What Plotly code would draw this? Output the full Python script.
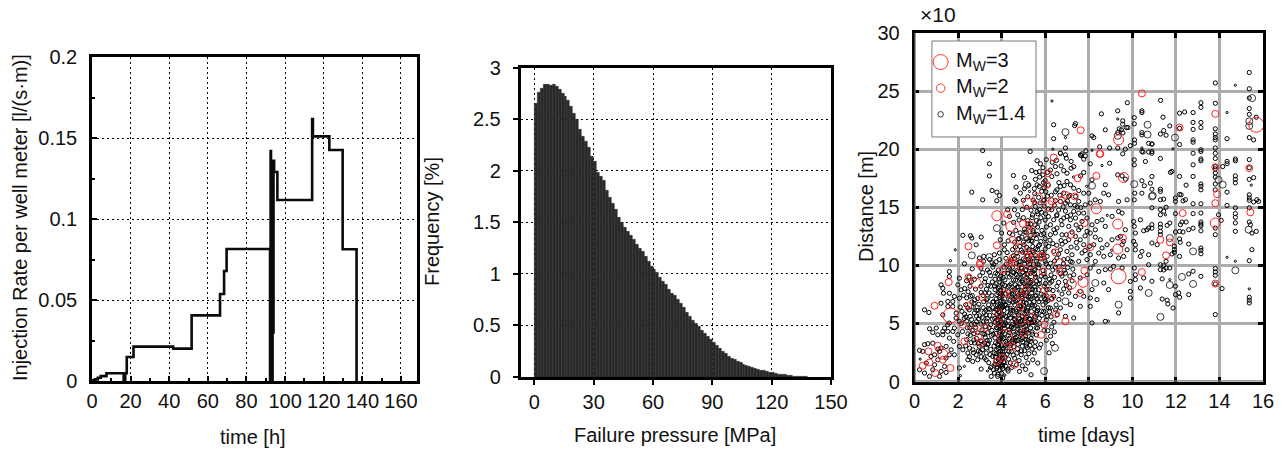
import plotly.graph_objects as go

# The page keeps the browser's 8 px body margin, so the figure is 1280x444 inside a 1288x452 window.
PAGE_W, PAGE_H = 1288, 452
MARGIN = 8
W, H = PAGE_W - MARGIN, PAGE_H - MARGIN
FONT = "Liberation Sans"
TXT = "#111111"
FS = 20

# ---------- panel 1: injection rate steps ----------
time_h = [0, 1.5, 3, 4.5, 7.5, 16.4, 17.2, 18, 21.5, 42, 51.6, 66.3, 68.4, 69.7, 92.2, 92.5, 92.7, 93.0, 93.2,
          93.5, 93.8, 94.0, 94.3, 95.6, 96.0, 114, 114.4, 122.9, 129.8, 137, 137.6]
rate = [0.0005, 0.001, 0.002, 0.003, 0.0048, 0.0, 0.0048, 0.0148, 0.0212, 0.0200, 0.0405, 0.0537, 0.0679, 0.0815,
        0.0, 0.142, 0.0, 0.125, 0.0, 0.136, 0.03, 0.136, 0.129, 0.129, 0.1117, 0.1617, 0.151, 0.1426, 0.0813,
        0.0, 0.0]

# ---------- panel 2: failure pressure histogram ----------
bin_width = 1.5
pressure_bins = [0.75, 2.25, 3.75, 5.25, 6.75, 8.25, 9.75, 11.25, 12.75, 14.25, 15.75, 17.25, 18.75, 20.25,
                 21.75, 23.25, 24.75, 26.25, 27.75, 29.25, 30.75, 32.25, 33.75, 35.25, 36.75, 38.25, 39.75, 41.25,
                 42.75, 44.25, 45.75, 47.25, 48.75, 50.25, 51.75, 53.25, 54.75, 56.25, 57.75, 59.25, 60.75, 62.25,
                 63.75, 65.25, 66.75, 68.25, 69.75, 71.25, 72.75, 74.25, 75.75, 77.25, 78.75, 80.25, 81.75, 83.25,
                 84.75, 86.25, 87.75, 89.25, 90.75, 92.25, 93.75, 95.25, 96.75, 98.25, 99.75, 101.25, 102.75, 104.25,
                 105.75, 107.25, 108.75, 110.25, 111.75, 113.25, 114.75, 116.25, 117.75, 119.25, 120.75, 122.25,
                 123.75, 125.25, 126.75, 128.25, 129.75, 131.25, 132.75, 134.25, 135.75, 137.25]
frequency = [2.65, 2.76, 2.80, 2.84, 2.84, 2.83, 2.84, 2.82, 2.79, 2.75, 2.72, 2.68, 2.62, 2.55,
             2.50, 2.40, 2.33, 2.28, 2.22, 2.14, 2.09, 1.98, 1.94, 1.90, 1.81, 1.74, 1.68, 1.62,
             1.55, 1.50, 1.45, 1.41, 1.37, 1.33, 1.28, 1.25, 1.22, 1.17, 1.12, 1.07, 1.04, 1.01,
             0.96, 0.93, 0.90, 0.85, 0.81, 0.79, 0.75, 0.71, 0.67, 0.63, 0.59, 0.55, 0.52, 0.49,
             0.45, 0.42, 0.39, 0.36, 0.33, 0.31, 0.28, 0.25, 0.23, 0.20, 0.18, 0.165, 0.15, 0.14,
             0.125, 0.11, 0.10, 0.095, 0.085, 0.075, 0.065, 0.06, 0.052, 0.048, 0.04, 0.034,
             0.028, 0.024, 0.02, 0.015, 0.011, 0.008, 0.005, 0.004, 0.002, 0.001]

# ---------- panel 3: events (time in days, distance x10 m) ----------
events_right = [
 (15.37,26.6),(13.81,25.7),(15.37,25.2),(11.3,24.2),(15.37,24.4),(13.15,24.0),(13.15,23.6),(13.81,23.95),(12.17,23.1),
 (12.4,23.2),(12.79,23.15),(15.37,23.5),(15.37,23.0),(15.69,22.75),(11.41,22.75),(12.79,22.3),(12.79,21.7),(13.15,22.3),
 (13.15,21.86),(11.72,22),(12.17,21.8),(11.29,21.3),(11.55,21.2),(11.44,21.6),(13.81,21.75),(13.81,21.3),(13.81,21),
 (13.81,20.8),(14.35,20.9),(15.37,21),(15.57,20.8),(12.79,20.8),(12.79,20.6),(12.17,20.4),(10.9,20.45),(13.15,19.95),
 (13.15,19.8),(13.81,20.1),(13.81,19.65),(10.9,19.65),(12.79,19.65),(11.29,19.2),(13.15,19.15),(13.15,19),(13.81,19.2),
 (14.73,19.15),(14.73,19),(14.35,18.95),(14.35,18.75),(15.37,19.1),(12.79,18.65),(13.81,18.5),(13.81,18.3),(14.15,18.5),
 (15.37,18.4),(11.75,18),(11.82,18.08),(13.81,17.95),(13.81,17.6),(10.9,17.65),(12.17,17.65),(12.79,17.65),(14.73,17.7),
 (14.73,17.4),(14.73,17.1),(15.37,17.4),(15.57,17.55),(13.81,17),(12.47,16.9),(13.15,17),(13.15,16.8),(13.15,16.5),
 (10.9,16.55),(11.29,16.55),(11.29,16.36),(13.81,16.5),(14.35,16.3),(12.17,16.1),(12.24,16.07),(15.37,16.07),(15.37,15.8),
 (15.37,15.6),(15.72,15.65),(15.57,15.45),(15.8,15.5),(11.98,15.8),(11.98,15.5),(12.44,15.65),(12.33,15.55),(11.29,15.65),
 (11.44,15.7),(12.79,15.3),(13.15,15.3),(14.35,15.15),(10.9,14.95),(11.55,15),(11.29,14.8),(11.44,14.65),(11.29,14.35),
 (11.98,14.45),(12.79,14.45),(13.15,14.5),(13.96,14.35),(14.73,14.95),(14.73,14.45),(14.73,14.13),(15.37,14.95),
 (14.08,13.87),(12.21,13.5),(12.28,13.73),(12.47,13.73),(13.15,13.73),(13.15,13.55),(13.15,13.4),(14.73,13.65),
 (15.37,13.73),(15.42,13.5),(11.72,13.64),(11.6,13.44),(11.29,13.55),(11.29,13.27),(10.9,13.5),(10.9,13.2),(12.79,13.2),
 (12.59,13.07),(13.15,12.97),(13.81,13.2),(14.73,12.93),(15.49,12.78),(15.69,12.92),(11.98,12.87),(12.17,12.92),
 (12.33,12.87),(11.29,12.92),(11.29,12.64),(13.81,12.64),(12.17,12.27),(12.2,11.98),(10.9,11.92),(11.14,11.78),
 (11.93,11.64),(11.93,11.35),(11.93,11.12),(12.59,11.83),(13.15,11.49),(13.15,11.29),(13.15,11),(15.49,11.35),(15.37,10.4),
 (11.82,10.98),(12.17,10.77),(11.55,10.35),(11.29,10.06),(11.44,9.97),(11.55,9.77),(11.72,9.77),(11.29,9.63),(11.44,9.6),
 (13.81,9.72),(13.81,9.43),(13.81,9.14),(12.79,9.49),(12.59,9.26),(13.15,9.05),(10.9,8.63),(11.37,8.83),(11.98,8.2),
 (13.81,8.4),(14.12,8),(12.13,7.62),(11.98,7.48),(12.59,7.48),(11.37,7.1),(11.6,7),(11.63,6.68),(12.17,7.25),(15.37,7.25),
 (15.37,7),(15.37,6.76),(11.87,6.33),(13.81,5.76),
 (6.39,22.1),(6.39,20.9),(7.39,22.2),(7.35,22.03),(8.15,21.15),(8.23,21),(8.76,21.66),(8.58,23.04),(9.33,23.3),(9.56,22.44),
 (9.56,22.15),(9.4,21.75),(9.33,21.43),(9.57,21.4),(9.5,21.66),(9.73,21.86),(9.8,21.86),(9.77,24),(10.09,22.72),(10.09,22.18),
 (10.44,23.3),(10.44,23.15),(10.44,21.43),(10.44,21.23),(10.1,20.8),(10.1,20.5),(10.75,20.5),(10.9,20.43),(9.91,20.3),
 (9.68,20),(9.33,20.1),(8.96,20.1),(8.5,20.2),(7.87,19.86),(6.93,20.1),(10.49,19.75),(10.75,19.75),(9.56,19.6),(6.7,19.66),
 (7.69,19.6),(7.62,19.5),
 (6.70,19.65),(6.93,19.51),(6.97,19.22),(7.65,19.45),(7.84,19.42),(7.77,19.14),(8.96,18.79),(8.07,18.74),(7.19,18.94),
 (7.31,18.5),(7.19,18.36),(6.73,18.56),(6.85,18.16),(7.0,17.93),(6.47,18.5),(6.24,18.2),(6.54,17.88),(6.3,17.65),(7.77,17.99),
 (7.62,17.7),(8.15,17.36),(9.33,17.79),(9.53,17.7),(9.68,17.42),(8.76,16.93),(10.44,17.28),(10.55,16.85),(10.83,17.07),
 (10.44,16.21),(10.11,16.21),(10.09,15.64),(10.6,18.94),(10.09,19.08),(10.09,18.65),(10.44,19.8),(10.9,19.8),(7.31,16.64),
 (7.54,16.44),(7.77,16.21),(8.0,16.21),(7.0,17.22),(7.16,16.93),(6.7,16.79),(6.54,16.5),(6.85,16.21),(7.08,15.93),(7.39,15.93),
 (6.7,15.5),(6.93,15.36),(7.16,15.21),(7.54,15.5),(7.84,15.21),(8.07,15.36),(8.3,15.64),(8.69,16.21),(8.53,15.5),(8.91,16.07),
 (9.37,15.5),(9.76,15.64),(7.31,14.64),(7.54,14.5),(7.77,14.5),(7.0,14.21),(7.16,13.92),(6.85,14.07),(6.54,14.35),(6.39,13.92),
 (6.3,14.78),(6.24,13.49),(6.54,13.21),(6.77,13.49),(7.08,13.35),(7.39,14.07),(7.69,13.78),(7.92,14.07),(8.15,13.49),(8.38,13.78),
 (8.61,13.92),(8.76,13.35),(8.3,13.06),(7.92,12.92),(7.54,13.06),(9.07,14.21),(9.37,14.64),(9.53,14.5),(9.68,13.06),(9.45,12.49),
 (10.06,13.78),(10.09,13.35),(10.14,12.78),(10.52,12.98),(10.67,13.06),(10.75,13.21),(10.37,13.92),(6.24,12.63),(6.47,12.78),
 (6.77,12.63),(7.08,12.2),(7.39,12.49),(7.61,12.2),(7.77,11.77),(8.07,12.78),(8.3,12.43),(8.53,12.2),(8.61,11.49),(8.84,11.77),
 (9.07,12.2),(9.33,12.35),(9.6,12.06),(9.53,11.77),(10.06,12.06),(10.14,11.77),(10.14,11.34),(10.37,10.77),(10.75,10.91),
 (10.75,10.05),(10.44,11.2),(9.76,11.34),(9.6,10.77),(9.37,10.63),(8.99,10.91),(8.69,10.77),(8.46,11.06),(8.07,10.91),(7.69,11.06),
 (7.46,11.49),(7.23,10.91),(7.0,11.2),(6.7,11.34),(6.39,11.2),(6.16,11.63),(6.09,10.77),(6.54,10.63),(6.85,10.49),(7.16,10.34),
 (7.54,10.34),(7.92,10.49),(8.3,10.34),(8.07,9.77),(8.46,9.48),(8.76,9.63),(8.99,9.68),(9.14,9.91),(9.53,9.77),(10.09,9.77),
 (10.14,9.19),(10.14,8.77),(10.52,8.91),(10.37,8.05),(9.91,8.62),(9.91,7.76),(9.91,7.19),(9.37,5.9),(8.91,7.91),(8.69,8.48),
 (8.15,7.91),(8.07,7.19),(7.77,7.33),(7.61,7.76),(7.39,7.33),(7.08,7.62),(6.7,6.33),(7.16,6.62),(7.61,6.47),(8.07,6.47),(8.38,7.05),
 (8.76,5.18),(8.15,5.04),(7.31,5.47),(6.93,5.61),(6.09,5.61),(6.24,6.33),(6.01,7.05),(6.39,7.33),(6.09,7.91),(6.54,8.19),(6.3,8.62),
 (6.93,8.62),(7.31,9.19),(7.61,8.91),(7.92,9.19),
]
events_left = [
 (3.13,19.88),(3.44,18.74),(3.44,17.7),(2.63,16.3),(3.56,16.44),(3.78,16.3),(3.9,16.0),(3.13,15.64),(3.78,15.56),(4.54,17.73),
 (5.05,17.56),(5.38,18.16),(5.58,18),(5.78,18.74),(5.31,19.8),(5.63,19),(5.89,17.79),(4.66,16.73),(4.86,16.22),(4.59,15.64),
 (4.66,15.5),(5.73,16.79),(2.22,12.58),(2.57,12.55),(2.63,12.35),(3.06,12.43),(2.83,11.77),(2.98,10.63),(3.18,10.77),(2.29,10.14),
 (3.17,10.34),(3.67,10.91),(4.1,13.64),(4.28,14.78),(4.59,14.78),(4.74,14.35),(4.36,14.21),(4.0,12.78),(3.94,12.2),(4.13,11.77),
 (4.13,11.34),(3.9,11.06),(3.9,10.49),(4.36,12.78),(4.51,12.63),
 (0.46,3.17),(0.23,2.68),(0.38,2.59),(0.69,4.54),(1.0,4.6),(0.84,4.22),(1.07,4.02),(1.3,4.02),(1.53,4.31),(1.8,3.45),(1.6,3.74),
 (1.38,4.6),(1.22,8.32),(1.6,9.47),(1.6,9.04),(1.33,7.6),(1.6,7.6),(1.3,8.03),(1.76,6.89),(1.53,6.89),(1.83,7.32),(0.46,6.17),
 (0.66,5.94),(2.06,7.17),(1.99,8.32),(2.06,8.89),(2.14,7.89),(1.53,6.46),(1.76,6.46),(1.22,6.74),(1.91,5.89),(1.91,5.46),(1.3,5.74),
 (2.06,5.17),(1.6,5.03),(1.3,4.31),(1.76,4.31),(1.83,4.6),(1.53,4.88),(1.99,4.02),(0.84,3.3),(0.61,3.25),(1.07,2.79),(0.92,2.3),
 (1.15,2.59),(0.76,2.16),(1.22,2.88),(1.45,3.02),(1.68,2.73),(1.83,2.3),(1.6,2.3),(1.45,2.02),(0.92,1.44),(1.07,1.87),(0.54,1.59),
 (0.23,1.01),(0.46,0.73),(0.69,0.44),(1.15,0.44),(1.22,0.87),(1.45,0.78),(0.84,1.01),(1.38,1.3),(2.06,1.16),(3.06,1.07),(2.45,1.87),
 (2.83,2.3),(2.9,1.87),(3.29,2.45),(3.21,2.02),(2.68,2.73),(2.45,2.45),(2.06,3.02),(2.22,2.73),(2.75,3.31),(3.36,3.17),(3.29,1.87),
 (3.59,2.16),(3.67,0.73),(3.52,0.44),(3.82,0.44),(4.05,0.3),(5.35,0.58),(4.82,0.87),(5.2,1.59),(5.43,1.87),(5.66,1.59),(5.73,2.88),
 (5.5,2.45),
 (3.5,1.2),(3.7,1.5),(3.9,1.0),(4.0,0.7),(4.2,1.3),(4.3,0.9),(4.1,1.7),(3.85,1.9),(4.4,1.6),(3.95,1.4),(4.05,1.1),(5.1,1.05),(4.6,2.0),
 (4.8,1.8),(4.95,1.35),(3.8,1.25),(3.92,1.65),(4.15,2.1),(3.75,2.4),(3.9,2.3),(4.05,2.55),(4.25,2.35),(4.45,2.6),(4.7,2.45),(4.9,2.3),
 (5.05,2.65),(5.25,2.4),(5.4,2.8),(3.3,2.9),(3.5,2.75),(3.65,3.05),(3.85,2.85),(4.0,3.1),(4.2,2.9),(4.35,3.25),(4.55,3.0),(4.75,3.2),
 (4.95,3.05),(5.15,3.3),(5.3,3.1),(5.55,3.4),(5.8,3.2),(6.05,3.55),(2.4,3.6),(2.6,3.35),(2.85,3.7),(3.05,3.5),(3.25,3.8),(3.45,3.55),
 (3.7,3.75),(3.9,3.45),(4.1,3.7),(4.3,3.95),(4.5,3.6),(4.7,3.85),(4.9,3.6),(5.1,3.9),(5.35,3.7),(5.6,4.0),(6.25,3.9),(2.2,4.3),(2.45,4.1),
 (2.65,4.4),(2.9,4.2),(3.1,4.45),(3.35,4.2),(3.55,4.4),(3.75,4.15),(3.95,4.35),(4.15,4.1),(4.35,4.45),(4.55,4.25),(4.75,4.5),(4.95,4.2),
 (5.15,4.45),(5.4,4.25),(5.65,4.6),(5.95,4.4),(6.3,4.7),(2.15,5.0),(2.4,5.2),(2.6,4.9),(2.85,5.15),(3.05,4.95),(3.3,5.2),(3.5,4.9),(3.7,5.1),
 (3.85,4.75),(3.95,5.25),(4.1,4.95),(4.3,5.2),(4.5,4.9),(4.7,5.15),(4.85,4.85),(5.05,5.2),(5.25,4.95),(5.5,5.25),(5.75,5.0),(6.05,5.3),(6.4,5.1),
 (2.3,5.8),(2.55,5.6),(2.75,5.9),(3.0,5.65),(3.2,5.95),(3.45,5.7),(3.65,5.95),(3.85,5.55),(4.0,5.8),(4.2,5.6),(4.4,5.9),(4.6,5.65),(4.8,5.95),
 (4.95,5.6),(5.15,5.9),(5.35,5.65),(5.6,5.95),(5.85,5.7),(6.2,6.0),(6.55,5.75),(2.1,6.4),(2.35,6.6),(2.7,6.4),(2.95,6.65),(3.15,6.35),(3.4,6.6),
 (3.6,6.35),(3.8,6.6),(4.0,6.3),(4.2,6.55),(4.4,6.3),(4.6,6.6),(4.8,6.25),(5.0,6.55),(5.2,6.3),(5.4,6.6),(5.65,6.35),(5.9,6.6),(6.15,6.35),(6.5,6.6),
 (2.4,7.2),(2.65,7.4),(2.9,7.15),(3.15,7.4),(3.35,7.15),(3.55,7.4),(3.75,7.1),(3.95,7.35),(4.15,7.1),(4.35,7.35),(4.55,7.1),(4.75,7.4),(4.95,7.15),
 (5.15,7.4),(5.35,7.1),(5.55,7.35),(5.8,7.1),(6.05,7.4),(6.3,7.15),(2.3,8.0),(2.55,8.2),(2.8,7.95),(3.05,8.2),(3.3,7.95),(3.5,8.2),(3.7,7.9),(3.9,8.15),
 (4.1,7.9),(4.3,8.15),(4.5,7.85),(4.7,8.1),(4.9,7.85),(5.1,8.15),(5.3,7.9),(5.5,8.15),(5.7,7.9),(5.95,8.2),(6.2,7.95),(2.5,9.0),(2.75,8.8),(3.0,9.1),
 (3.25,8.85),(3.5,9.1),(3.7,8.8),(3.95,9.05),(4.15,8.75),(4.35,9.0),(4.55,8.75),(4.75,9.0),(4.95,8.7),(5.15,8.95),(5.35,8.7),(5.55,9.0),(5.75,8.75),
 (6.0,9.0),(6.2,8.8),(2.65,9.7),(3.05,9.75),(3.35,9.6),(3.6,9.85),(3.85,9.6),(4.1,9.85),(4.3,9.6),(4.5,9.85),(4.7,9.55),(4.9,9.8),(5.1,9.55),(5.3,9.8),
 (5.5,9.55),(5.7,9.8),(5.9,9.55),(6.15,9.85),(6.35,9.6),(3.45,10.5),(3.75,10.3),(4.2,10.6),(4.4,10.35),(4.6,10.6),(4.8,10.3),(5.0,10.55),(5.2,10.3),
 (5.4,10.6),(5.6,10.35),(5.8,10.55),(6.0,10.35),(4.25,11.1),(4.5,11.35),(4.7,11.05),(4.9,11.3),(5.1,11.05),(5.25,11.35),(5.45,11.1),(5.65,11.35),(5.85,11.1),
 (6.0,11.4),(4.3,12.1),(4.6,12.0),(4.8,12.3),(5.0,12.0),(5.15,12.3),(5.4,12.05),(5.6,12.3),(5.8,12.05),(6.0,12.3),(4.65,13.0),(4.85,12.8),(5.05,13.1),
 (5.25,13.3),(5.45,13.0),(5.65,13.3),(5.85,13.0),(6.05,13.3),(4.55,13.7),(4.8,13.9),(5.0,14.1),(5.2,13.85),(5.4,14.1),(5.6,13.85),(5.8,14.1),(6.0,13.9),
 (6.15,14.2),(4.95,14.8),(5.15,15.0),(5.35,14.75),(5.55,15.05),(5.75,14.8),(5.95,15.1),(6.15,14.85),(5.0,15.6),(5.2,15.9),(5.45,15.6),(5.7,15.85),(5.95,15.6),
 (6.1,15.95),(5.05,16.6),(5.25,16.9),(5.5,16.6),(5.95,16.7),(6.15,16.9),(5.55,17.4),(5.75,17.6),(6.0,17.3),(6.1,18.0),(5.9,18.4),(6.05,19.1),
]
events_core = [
 (3.62,1.02),(3.71,2.13),(3.83,0.62),(3.88,3.57),(3.79,4.62),(3.93,5.61),(3.81,6.18),(3.97,6.92),(3.86,7.63),(3.74,8.41),(3.92,8.57),
 (4.03,2.02),(4.09,2.87),(4.02,3.83),(4.13,4.56),(4.06,5.37),(4.11,6.11),(4.08,6.87),(4.17,7.54),(4.04,8.38),(4.12,9.31),(4.21,10.11),
 (4.27,1.07),(4.32,1.93),(4.24,3.31),(4.37,3.73),(4.29,4.77),(4.41,5.48),(4.26,6.31),(4.38,6.96),(4.31,7.72),(4.43,8.41),(4.28,9.32),
 (4.47,1.21),(4.53,2.27),(4.49,3.44),(4.58,4.03),(4.46,4.71),(4.61,5.31),(4.52,6.12),(4.64,6.92),(4.48,7.53),(4.62,8.33),(4.51,9.41),
 (4.68,1.44),(4.73,2.82),(4.66,3.51),(4.79,4.17),(4.71,4.93),(4.83,5.41),(4.69,6.02),(4.86,6.83),(4.72,7.61),(4.84,8.42),(4.67,9.21),(4.81,10.02),
 (4.91,2.63),(4.97,3.42),(4.89,4.07),(5.03,4.66),(4.93,5.27),(5.06,5.81),(4.88,6.42),(5.08,7.06),(4.92,7.52),(5.04,8.43),(4.98,9.37),(5.06,10.12),
 (5.13,2.07),(5.18,2.91),(5.12,3.63),(5.22,4.17),(5.11,4.76),(5.27,5.42),(5.16,6.07),(5.29,6.83),(5.14,7.62),(5.26,8.47),(5.19,9.22),(5.28,10.08),(5.17,10.84),
 (5.34,3.47),(5.41,4.07),(5.33,4.61),(5.46,5.11),(5.37,6.02),(5.48,6.87),(5.38,7.63),(5.44,8.41),(5.32,9.31),(5.47,10.07),(5.36,10.87),(5.43,11.62),(5.33,12.57),
 (5.52,3.01),(5.58,4.62),(5.54,5.58),(5.63,6.12),(5.59,7.41),(5.67,8.37),(5.51,9.27),(5.64,10.13),(5.57,10.83),(5.69,11.67),(5.53,12.62),(5.66,14.43),(5.51,15.41),
 (3.02,2.53),(3.14,3.16),(3.23,4.07),(3.11,5.53),(3.27,6.13),(3.18,6.87),(3.06,7.67),(3.22,8.56),(3.13,9.37),(2.97,3.03),(2.81,4.67),(2.94,5.38),(2.86,6.12),(2.77,7.03),
 (3.41,1.62),(3.47,2.31),(3.39,3.27),(3.53,3.97),(3.42,4.63),(3.58,5.36),(3.46,6.21),(3.59,6.83),(3.43,7.62),(3.57,8.57),(3.44,9.41),(3.56,10.22),
 (3.66,2.47),(3.72,3.32),(3.61,4.07),(3.76,4.63),(3.68,5.43),(3.73,6.23),(3.63,6.87),(3.78,7.48),(3.67,8.23),(3.72,9.33),(3.64,10.07),
 (2.52,2.12),(2.67,1.73),(2.35,3.07),(2.56,3.97),(2.73,4.12),(2.42,4.62),(2.28,5.43),(2.51,6.17),(2.18,6.03),(2.63,6.83),(2.46,7.73),(2.24,7.42),(2.61,8.57),(2.39,8.67),
 (6.18,2.47),(6.33,3.27),(6.12,4.37),(6.42,4.27),(6.27,5.57),(6.48,6.17),(6.12,6.97),(6.36,7.83),(6.22,8.47),(6.43,8.97),(6.27,9.17),(6.47,9.83),(6.24,10.17),(6.43,10.37),
 (6.63,7.07),(6.77,7.53),(6.85,7.97),(6.97,8.27),(7.12,8.07),(7.24,8.67),(6.71,9.27),(6.87,9.57),(7.03,9.83),(7.27,9.67),(6.62,10.97),(6.78,11.83),(6.93,12.03),(7.19,11.57),
 (6.35,11.87),(6.22,12.17),(6.4,13.07),(6.62,14.77),(6.83,15.03),(7.02,15.53),(6.42,15.17),(6.28,16.03),(6.47,16.33),(6.63,17.12),(6.32,18.87),(6.52,19.03),
]
events_dense = [
 (3.78,1.12),(3.84,1.53),(3.91,2.07),(3.96,2.62),(3.82,3.22),(3.98,3.93),(3.89,4.23),(3.83,4.97),(3.99,5.07),(3.88,5.97),(3.94,6.43),(3.79,6.83),(3.91,7.23),(3.84,8.03),
 (3.77,2.72),(3.86,3.14),(3.94,3.72),(3.81,5.33),(3.97,7.57),(4.01,1.47),(3.74,1.77),(3.87,2.53),(3.92,4.83),(3.78,5.77),(3.85,6.37),(3.95,7.83),(3.89,8.83),(3.81,9.23),
 (4.04,1.33),(4.12,1.63),(4.07,2.33),(4.16,3.07),(4.04,4.27),(4.18,5.03),(4.09,5.77),(4.15,6.63),(4.03,7.43),(4.14,8.27),(4.07,8.93),(4.18,3.47),(4.11,4.83),(4.05,6.47),
 (4.33,2.57),(4.42,3.13),(4.36,4.23),(4.44,4.67),(4.34,5.73),(4.42,6.13),(4.33,6.77),(4.46,7.27),(4.36,8.27),(4.43,9.17),(4.37,9.77),(4.45,10.47),
 (4.56,3.37),(4.63,3.77),(4.54,4.57),(4.66,5.07),(4.57,5.43),(4.65,6.17),(4.53,6.83),(4.67,7.27),(4.58,7.97),(4.64,8.73),(4.56,9.37),(4.68,10.17),(4.54,10.83),(4.63,11.57),
 (4.76,3.57),(4.83,4.33),(4.74,4.77),(4.87,5.17),(4.78,5.73),(4.84,6.53),(4.73,7.02),(4.88,7.72),(4.76,8.17),(4.85,8.87),(4.77,9.47),(4.86,10.33),(4.73,10.77),(4.84,11.63),(4.76,12.27),
 (4.96,3.77),(5.03,4.37),(4.94,4.93),(5.07,5.43),(4.97,6.23),(5.02,6.83),(4.93,7.33),(5.07,7.93),(4.96,8.53),(5.04,9.13),(4.93,9.77),(5.07,10.43),(4.96,11.13),(5.03,11.77),(4.93,12.43),(5.07,12.87),
 (5.13,3.07),(5.22,3.53),(5.13,4.27),(5.24,5.07),(5.14,5.53),(5.21,6.43),(5.13,6.73),(5.24,7.27),(5.17,8.27),(5.23,8.77),(5.12,9.63),(5.23,10.47),(5.16,11.53),(5.24,12.13),(5.13,12.83),(5.21,13.57),
 (5.31,5.37),(5.37,5.07),(5.43,6.47),(5.32,7.27),(5.42,7.93),(5.34,8.53),(5.41,9.43),(5.33,10.43),(5.42,11.27),(5.36,12.13),(5.44,12.87),(5.33,13.53),(5.42,14.33),
 (5.53,5.07),(5.61,5.77),(5.52,6.53),(5.63,7.13),(5.54,7.87),(5.61,8.63),(5.53,9.67),(5.62,10.63),(5.56,11.43),(5.62,12.67),(5.54,13.47),(5.63,14.63),(5.52,16.17),(5.63,16.93),
 (5.73,5.43),(5.83,6.07),(5.71,6.87),(5.82,7.53),(5.73,8.43),(5.81,9.07),(5.72,10.03),(5.83,10.87),(5.74,11.77),(5.82,12.63),(5.72,13.73),(5.83,14.57),(5.76,15.37),(5.84,16.37),(5.73,18.07),
 (5.93,6.03),(6.03,6.83),(5.94,7.43),(6.01,8.43),(5.93,9.23),(6.04,10.13),(5.92,10.93),(6.03,11.83),(5.93,12.73),(6.02,14.43),(5.93,15.63),(6.03,16.33),(5.92,17.13),
 (3.07,2.13),(3.12,2.73),(3.22,3.31),(3.34,3.53),(3.14,4.12),(3.26,4.73),(3.34,5.43),(3.16,5.13),(3.29,5.73),(3.39,6.27),(3.31,7.03),(3.23,7.63),(3.38,8.27),
 (2.53,2.87),(2.71,2.47),(2.93,2.63),(2.72,3.57),(2.93,3.27),(2.54,4.63),(2.77,4.93),(2.36,5.57),(2.93,6.13),(2.62,5.33),(2.84,5.63),(2.44,6.33),(2.73,6.73),(2.57,7.33),
 (6.62,8.53),(6.77,9.07),(6.93,9.33),(7.13,9.07),(6.64,9.87),(6.84,10.13),(7.04,10.57),(7.24,10.27),(6.53,11.73),(6.73,12.13),(6.97,12.63),(7.23,12.87),(6.53,14.27),(6.73,13.87),(6.93,14.67),
 (7.17,14.33),(6.47,15.57),(6.67,16.03),(6.87,16.87),(7.13,16.03),(7.37,15.17),(7.47,15.03),(7.63,14.97),(7.42,13.47),(7.63,13.27),(7.83,12.53),(8.03,11.63),(7.43,11.97),(7.83,11.27),(8.23,11.77),
]
events_tiny = [
 (14.73,25.5),(14.35,23.15),(11.87,20.03),(15.46,16.9),(11.52,14.35),(14.35,10.69),(14.73,10.35),(11.72,8.77),(15.37,7.97),
 (6.31,24.15),(6.93,21),(9.33,22.6),(8.15,19.9),(6.35,20),(10.44,20.1),(8.61,18.59),(5.28,16.36),(1.87,11.34),(1.65,10.4),
 (0.26,1.93),(2.29,1.3),(2.11,0.5),(3.44,1.16),(3.35,0.9),(3.6,1.4),(4.15,0.55),(3.9,3.0),(4.0,4.5),(4.25,5.45),(5.05,6.1),(5.3,8.2),(5.05,7.7),
 (6.6,9.5),(8.85,14.3),(7.9,16.8),(7.3,17.6),(6.6,7.8),(8.9,5.2),(8.22,10.0),(9.05,11.3),(5.6,9.1),(3.9,6.7),(4.5,7.6),(4.9,9.2),
]
events_large = [
 (15.34,13.07),(13.96,17.36),(14.15,16.95),(10.94,16),(11.96,21),(11.72,12.35),(12.79,11.2),(14.73,9.57),(12.28,9),(11.72,8.31),
 (12.79,8.4),(11.29,5.56),(15.5,24.4),(15.37,22.0),(15.37,22.4),(6.93,21.46),(9.33,21.15),(10.7,22.1),(10.7,21.26),(8.15,16.85),
 (10.09,16.99),(10.9,15.93),(10.75,7.62),(9.37,6.62),(8.3,8.48),(6.93,6.9),(5.15,16.93),(3.78,13.2),(2.63,10.86),(3.44,10.71),(2.85,6.3),(6.45,2.9),(5.95,0.9),
]
red_small = [
 (13.81,23.04),(12.17,21.86),(13.81,18.45),(15.37,18.37),(13.89,16.13),(13.81,15.35),(15.42,14.56),(12.31,14.5),(11.29,12.2),
 (11.72,11.98),(11.55,10.86),(13.81,8.43),(10.44,24.8),(7.63,21.63),(8.5,19.6),(6.39,19.28),(8.53,19.6),(8.35,17.7),(7.49,17.5),
 (6.12,17.93),(6.06,16.93),(6.3,15.5),(6.93,16.07),(6.73,15.58),(7.36,15.93),(7.81,13.64),(9.57,12.35),(7.19,12.63),(8.07,11.57),
 (6.47,11.12),(5.86,10.77),(6.67,9.48),(7.8,9.54),(10.44,9.42),(7.61,7.62),(6.28,7.19),(5.96,7.82),(6.5,5.81),(6.93,5.18),(5.96,4.9),
 (4.25,14.41),(2.48,11.63),(3.78,11.72),(4.97,13.58),(5.28,12.78),(5.31,13.49),(4.51,12.2),(5.35,11.06),(4.51,10.63),(5.2,10.77),
 (5.81,10.77),(3.01,10.2),(4.51,10.2),(3.01,10.04),(1.57,8.55),(0.92,6.52),(2.48,6.52),(2.48,8.98),(3.1,7.26),(2.22,4.88),(2.75,4.51),
 (3.24,4.6),(2.94,3.82),(2.29,3.45),(3.06,3.31),(1.07,3.08),(0.64,2.59),(1.3,1.87),(0.69,1.64),(0.38,1.36),(0.95,0.73),(1.65,1.16),
 (3.87,5.89),(3.87,5.08),(4.51,2.96),(4.05,2.02),(3.79,1.73),(4.59,1.44),(5.02,4.17),(5.81,4.02),(4.86,6.46),(4.1,7.6),(5.12,7.89),
 (4.89,7.32),(5.35,10.04),(5.89,9.47),(4.05,9.61),(4.36,10.24),(4.89,9.75),
]
red_large = [
 (13.81,13.64),(9.37,20.8),(9.6,17.56),(6.16,15.13),(8.35,14.87),(9.33,13.55),(9.33,11.4),(6.67,10.14),(7.74,8.54),(7.2,8.39),
 (3.78,14.27),(5.66,15.78),(5.2,15.36),(4.43,13.35),(4.86,11.49),(2.83,8.46),(1.3,2.36),(4.86,5.31),(5.31,5.46),(4.54,7.46),(5.28,8.98),
]
red_huge = [(15.69,22.1),(9.37,9.05),(1.65,5.68),(4.16,3.82)]

legend_labels = ["M<sub>W</sub>=3", "M<sub>W</sub>=2", "M<sub>W</sub>=1.4"]
legend_time = [1.2, 1.2, 1.2]
legend_dist = [27.5, 25.25, 23.0]

AXIS_TITLES = [
    ("time [h]", 253, 437, 0), ("Injection Rate per well meter [l/(s·m)]", 20, 218, -90),
    ("Failure pressure [MPa]", 675, 435, 0), ("Frequency [%]", 432, 222, -90),
    ("time [days]", 1086, 435, 0), ("Distance [m]", 866, 207, -90),
]


def px_x(v):
    return (v - MARGIN) / W


def px_y(v):
    return 1 - (v - MARGIN) / H


def split(points):
    return [p[0] for p in points], [p[1] for p in points]


fig = go.Figure()

fig.add_trace(go.Scatter(x=time_h, y=rate, mode="lines", line=dict(color="#0a0a0a", width=2.6, shape="hv"),
                         xaxis="x", yaxis="y", showlegend=False))
fig.add_trace(go.Bar(x=pressure_bins, y=frequency, width=bin_width,
                     marker=dict(color="#2b2b2b", line=dict(color="#1c1c1c", width=0.4)),
                     xaxis="x2", yaxis="y2", showlegend=False))


def events(points, size, color, width=0.9):
    xs, ys = split(points)
    fig.add_trace(go.Scatter(x=xs, y=ys, mode="markers", xaxis="x3", yaxis="y3", showlegend=False,
                             marker=dict(symbol="circle-open", size=size, color=color, line=dict(width=width))))


RED = "#ff2020"
events(events_tiny, 2.2, "#000000", width=1)
events(events_left, 4.2, "#000000", width=1)
events(events_core, 4.2, "#000000", width=1)
events(events_dense, 4.2, "#000000", width=1)
events(events_right, 4.2, "#000000", width=1)
events(events_large, 7, "#222222")
events(red_small, 7, RED, width=1)
events(red_large, 10, RED, width=1)
events(red_huge, 15, RED, width=1)

# legend samples, drawn through the same axes on a white panel
for tx, dy, sz, col in zip(legend_time, legend_dist, [15, 8.5, 5.5], [RED, RED, "#222222"]):
    fig.add_trace(go.Scatter(x=[tx], y=[dy], mode="markers", xaxis="x3", yaxis="y3", showlegend=False,
                             marker=dict(symbol="circle-open", size=sz, color=col, line=dict(width=0.9))))

tickfont = dict(family=FONT, size=FS, color=TXT)
DOT = dict(showgrid=True, gridcolor="#000000", gridwidth=1, griddash="2px,3px")
LINE = dict(showline=True, linecolor="#000000", linewidth=2.5, mirror=True, zeroline=False, tickfont=tickfont, automargin=False)
GRID3 = dict(showline=True, linecolor="#000", linewidth=2.5, mirror="ticks", zeroline=False, tickfont=tickfont, automargin=False,
             showgrid=True, gridcolor="#adadad", gridwidth=3, ticks="inside", ticklen=5, tickwidth=3, tickcolor="#000")

texts = [dict(text=t, xref="paper", yref="paper", x=px_x(px), y=px_y(py), xanchor="center", yanchor="middle",
              textangle=ang, showarrow=False, font=dict(family=FONT, size=FS, color=TXT))
         for t, px, py, ang in AXIS_TITLES]
texts.append(dict(text="×10", xref="paper", yref="paper", x=px_x(918), y=px_y(15), xanchor="left", yanchor="middle",
                  showarrow=False, font=dict(family=FONT, size=21, color=TXT)))
for label, py in zip(legend_labels, [62, 88, 114]):
    texts.append(dict(text=label, xref="paper", yref="paper", x=px_x(954), y=px_y(py), xanchor="left", yanchor="middle",
                      showarrow=False, font=dict(family=FONT, size=FS, color=TXT)))

fig.update_layout(
    width=W, height=H, margin=dict(l=0, r=0, t=0, b=0, autoexpand=False), paper_bgcolor="white", plot_bgcolor="white",
    barmode="overlay", bargap=0, font=dict(family=FONT, size=FS, color=TXT), showlegend=False,
    xaxis=dict(domain=[px_x(92), px_x(417)], range=[0, 168.3], tick0=0, dtick=20, ticks="inside", ticklen=5, tickwidth=2,
               tickcolor="#000", minor=dict(dtick=10, tick0=0, ticks="inside", ticklen=3, tickwidth=2, tickcolor="#000", showgrid=False),
               **LINE, **DOT),
    yaxis=dict(domain=[px_y(381), px_y(57)], range=[0, 0.2], tickvals=[0, 0.05, 0.1, 0.15, 0.2], ticktext=["0", "0.05", "0.1", "0.15", "0.2"],
               ticks="inside", ticklen=5, tickwidth=2, tickcolor="#000", ticklabelstandoff=8,
               minor=dict(dtick=0.025, tick0=0, ticks="inside", ticklen=3, tickwidth=2, tickcolor="#000", showgrid=False),
               **LINE, **DOT),
    xaxis2=dict(domain=[px_x(520.5), px_x(831)], range=[-7, 150], anchor="y2", tick0=0, dtick=30, ticks="outside", ticklen=5, tickwidth=2,
                tickcolor="#000", **LINE, **DOT),
    yaxis2=dict(domain=[px_y(377), px_y(67.5)], range=[0, 3], anchor="x2", tickvals=[0, 0.5, 1, 1.5, 2, 2.5, 3], ticktext=["0", "0.5", "1", "1.5", "2", "2.5", "3"],
                ticks="outside", ticklen=5, tickwidth=2, tickcolor="#000", ticklabelstandoff=8, **LINE, **DOT),
    xaxis3=dict(domain=[px_x(914.5), px_x(1263)], range=[0, 16], anchor="y3", tick0=0, dtick=2, **GRID3),
    yaxis3=dict(domain=[px_y(381.5), px_y(33)], range=[0, 30], anchor="x3", tick0=0, dtick=5, ticklabelstandoff=8, **GRID3),
    annotations=texts,
    shapes=[dict(type="line", xref="x3", yref="y3", x0=0, x1=0, y0=0, y1=30, line=dict(color="#7c7c7c", width=2.5), layer="above"),
            dict(type="line", xref="x3", yref="y3", x0=0, x1=16, y0=0, y1=0, line=dict(color="#7c7c7c", width=2.5), layer="above"),
            dict(type="rect", xref="x3", yref="y3", x0=0.80, x1=5.58, y0=21.05, y1=29.31,
                 fillcolor="white", line=dict(color="#777777", width=1), layer="between")],
)

fig.write_html("out.html")
